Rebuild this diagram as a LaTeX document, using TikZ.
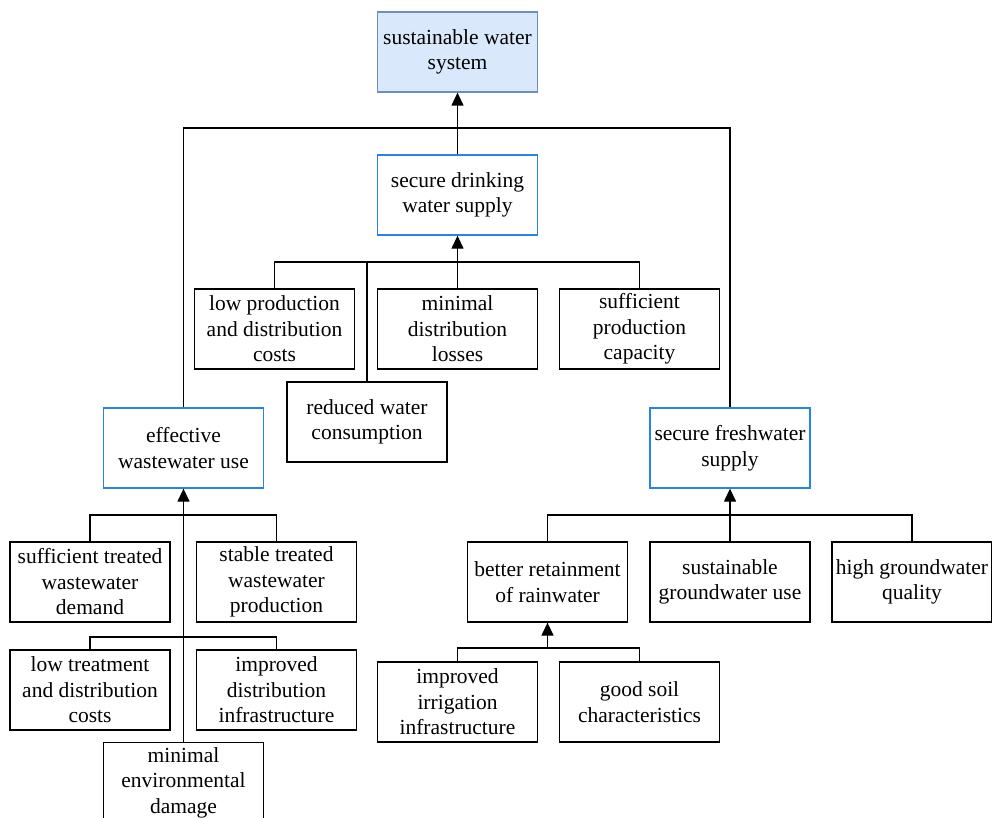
\documentclass[tikz,border=0pt]{standalone}
\usepackage{fontspec}
\setmainfont{Liberation Serif}
\usetikzlibrary{arrows.meta}
\definecolor{rootfill}{RGB}{218,232,252}
\definecolor{rootdraw}{RGB}{108,142,191}
\definecolor{goaldraw}{RGB}{40,132,228}
\begin{document}
\begin{tikzpicture}[x=1pt,y=-1pt,
  box/.style={draw=black,line width=1.3pt,minimum width=160pt,minimum height=80pt,
    inner sep=2pt,align=center,font=\fontsize{21.5}{25.5}\selectfont},
  rootbox/.style={box,draw=rootdraw,fill=rootfill},
  goalbox/.style={box,draw=goaldraw},
  link/.style={line width=1.3pt},
  arr/.style={line width=1.3pt,-{Triangle[width=12pt,length=13pt]}}]
\clip (0,0) rectangle (992,818);
\useasboundingbox (0,0) rectangle (992,818);
% main goal and its sub-goals
\node[rootbox] (sws) at (457.5,52) {sustainable water\\system};
\node[goalbox] (sdw) at (457.5,195) {secure drinking\\water supply};
\node[goalbox] (ewu) at (183.5,448) {effective\\wastewater use};
\node[goalbox] (sfs) at (730,448) {secure freshwater\\supply};
% drinking water factors
\node[box] (lpc) at (274.5,329) {low production\\and distribution\\costs};
\node[box] (mdl) at (457.5,329) {minimal\\distribution\\losses};
\node[box] (spc) at (639.5,329) {sufficient\\production\\capacity};
\node[box] (rwc) at (367,422) {reduced water\\consumption};
% wastewater factors
\node[box] (stw) at (90,582) {sufficient treated\\wastewater\\demand};
\node[box] (stp) at (276.5,582) {stable treated\\wastewater\\production};
\node[box] (ltc) at (90,690) {low treatment\\and distribution\\costs};
\node[box] (idi) at (276.5,690) {improved\\distribution\\infrastructure};
\node[box,anchor=north] (med) at (183.5,742) {minimal\\environmental\\damage};
% freshwater factors
\node[box] (brr) at (547.5,582) {better retainment\\of rainwater};
\node[box] (sgu) at (730,582) {sustainable\\groundwater use};
\node[box] (hgq) at (912,582) {high groundwater\\quality};
\node[box] (iii) at (457.5,702) {improved\\irrigation\\infrastructure};
\node[box] (gsc) at (639.5,702) {good soil\\characteristics};
% junctions
\coordinate (j1) at (457.5,128);
\coordinate (j2) at (457.5,262);
\coordinate (j3) at (183.5,515);
\coordinate (j4) at (183.5,637);
\coordinate (j5) at (730,515);
\coordinate (j6) at (547.5,648);
% connectors
\draw[link] (ewu.north) |- (j1) -| (sfs.north);
\draw[arr] (sdw.north) -- (sws.south);
\draw[link] (lpc.north) |- (j2) -| (spc.north);
\draw[link] (rwc.north) -- (rwc.north |- j2);
\draw[arr] (mdl.north) -- (sdw.south);
\draw[link] (stw.north) |- (j3) -| (stp.north);
\draw[link] (ltc.north) |- (j4) -| (idi.north);
\draw[arr] (med.north) -- (ewu.south);
\draw[link] (brr.north) |- (j5) -| (hgq.north);
\draw[arr] (sgu.north) -- (sfs.south);
\draw[link] (iii.north) |- (j6) -| (gsc.north);
\draw[arr] (j6) -- (brr.south);
\end{tikzpicture}
\end{document}
